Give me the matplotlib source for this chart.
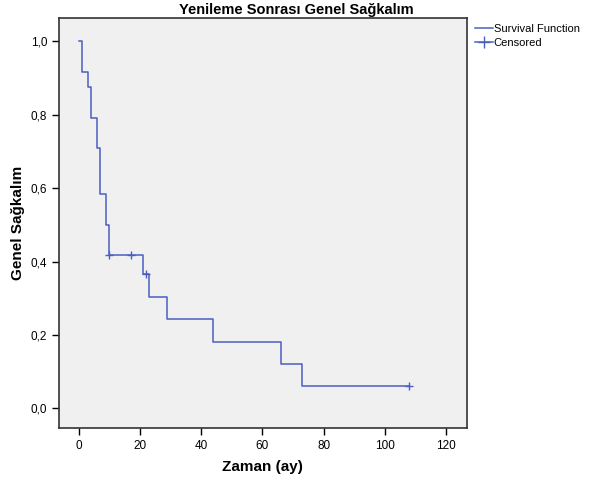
import matplotlib.pyplot as plt
from matplotlib.lines import Line2D

plt.rcParams['font.family'] = ['Liberation Sans', 'DejaVu Sans']

# Kaplan-Meier steps (time, survival after that time)
times = [0, 1, 3, 4, 6, 7, 9, 10, 21, 23, 29, 44, 66, 73, 108]
surv = [1.0, 0.917, 0.875, 0.792, 0.708, 0.583, 0.5, 0.417, 0.365, 0.304, 0.243, 0.182, 0.122, 0.061, 0.061]

# censored observations
cens_t = [10, 17, 22, 108]
cens_s = [0.417, 0.417, 0.365, 0.061]

xticks = [0, 20, 40, 60, 80, 100, 120]
yticks = [0.0, 0.2, 0.4, 0.6, 0.8, 1.0]

blue = '#4a5fc0'

fig = plt.figure(figsize=(5.98, 4.84), dpi=100)
ax = fig.add_axes([0.0987, 0.1151, 0.6817, 0.8477])
ax.set_facecolor('#f0f0f0')

ax.step(times, surv, where='post', color=blue, lw=1.1)
ax.plot(cens_t, cens_s, ls='none', marker='+', ms=6, mew=1.0, color=blue)

ax.set_xlim(-6.4, 126.7)
ax.set_ylim(-0.054, 1.063)
ax.set_xticks(xticks)
ax.set_yticks(yticks)
ax.set_yticklabels([f'{v:.1f}'.replace('.', ',') for v in yticks])
ax.tick_params(direction='out', length=5, width=1, labelsize=8.5, colors='black')
for s in ax.spines.values():
    s.set_linewidth(1.2)
    s.set_color('#333333')

ax.set_xlabel('Zaman (ay)', fontsize=11, fontweight='bold', labelpad=6)
ax.set_ylabel('Genel Sağkalım', fontsize=11, fontweight='bold', labelpad=4)
fig.text(0.495, 0.979, 'Yenileme Sonrası Genel Sağkalım', ha='center', va='center',
         fontsize=10.5, fontweight='bold')

handles = [Line2D([], [], color=blue, lw=1.1),
           Line2D([], [], color=blue, lw=1.1, marker='+', ms=8)]
fig.legend(handles, ['Survival Function', 'Censored'], loc='upper left',
           bbox_to_anchor=(0.785, 0.962), frameon=False, fontsize=8,
           handlelength=1.6, handletextpad=0.1, labelspacing=0.35, borderpad=0)

fig.savefig('out.png', dpi=100)
